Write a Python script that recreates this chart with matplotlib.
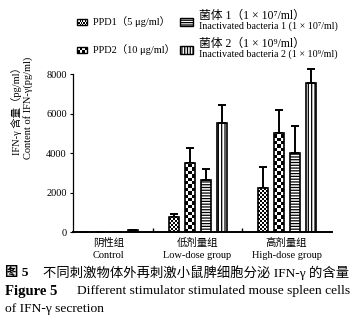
import numpy as np
import matplotlib.pyplot as plt
from matplotlib.patches import Rectangle

plt.rcParams['font.family'] = ['Liberation Serif', 'Noto Sans CJK SC']
plt.rcParams['hatch.linewidth'] = 0.9

grupos = ['阴性组\nControl', '低剂量组\nLow-dose group', '高剂量组\nHigh-dose group']
rotulos_cn = ['PPD1（5 μg/ml）', 'PPD2（10 μg/ml）', '菌体 1（1 × 10⁷/ml）', '菌体 2（1 × 10⁹/ml）']
rotulos_en = ['', '', 'Inactivated bacteria 1 (1 × 10⁷/ml)', 'Inactivated bacteria 2 (1 × 10⁹/ml)']

ppd1 = [0, 750, 2250]
ppd2 = [0, 3500, 5000]
bact1 = [0, 2650, 4000]
bact2 = [100, 5500, 7550]
erro_ppd1 = [0, 150, 1050]
erro_ppd2 = [0, 750, 1200]
erro_bact1 = [0, 550, 1350]
erro_bact2 = [0, 950, 700]

valores = [ppd1, ppd2, bact1, bact2]
erros = [erro_ppd1, erro_ppd2, erro_bact1, erro_bact2]
# xadrez: (colunas por barra, altura da celula em pg/ml); hachura para os outros
xadrez = [(5, 100), (3, 170), None, None]
hachuras = [None, None, '------', '|||||']


def desenhar_xadrez(ax, barra, n_colunas, altura_celula):
    x0, w, h = barra.get_x(), barra.get_width(), barra.get_height()
    if h <= 0:
        return
    n_linhas = int(np.ceil(h / altura_celula))
    ii, jj = np.indices((n_linhas, n_colunas))
    padrao = (ii + jj) % 2
    im = ax.imshow(padrao, extent=[x0, x0 + w, 0, n_linhas * altura_celula], origin='lower',
                   cmap='gray', vmin=0, vmax=1, interpolation='nearest', aspect='auto', zorder=1.5)
    im.set_clip_path(barra)


def legenda_xadrez(fig, x, y, w, h, n_colunas, n_linhas):
    cw, ch = w / n_colunas, h / n_linhas
    for i in range(n_linhas):
        for j in range(n_colunas):
            if (i + j) % 2 == 0:
                fig.add_artist(Rectangle((x + j * cw, y + i * ch), cw, ch, transform=fig.transFigure,
                                         facecolor='black', edgecolor='none'))
    fig.add_artist(Rectangle((x, y), w, h, transform=fig.transFigure, facecolor='none',
                             edgecolor='black', linewidth=1))


fig = plt.figure(figsize=(3.52, 3.31), dpi=100)
ax = fig.add_axes([0.2074, 0.299, 0.736, 0.477])

x = np.arange(len(grupos))
largura = 0.112
deslocamentos = [-0.27, -0.09, 0.09, 0.27]

for i in range(4):
    barras = ax.bar(x + deslocamentos[i], valores[i], largura, facecolor='none', edgecolor='black',
                    linewidth=1.2, hatch=hachuras[i], zorder=2)
    if xadrez[i] is not None:
        for b in barras:
            desenhar_xadrez(ax, b, *xadrez[i])
    erro = np.array(erros[i])
    ax.errorbar(x + deslocamentos[i], valores[i], yerr=[np.zeros(3), erro],
                fmt='none', ecolor='black', elinewidth=1.4, capsize=2.7, capthick=1.4,
                clip_on=False, zorder=1)

ax.set_xlim(-0.399, 2.511)
ax.set_ylim(0, 8000)
ax.set_yticks([0, 2000, 4000, 6000, 8000])
ax.set_xticks(x)
ax.set_xticklabels(grupos, fontsize=7.5, linespacing=1.5)
ax.set_xticks([0.5, 1.5], minor=True)
ax.tick_params(axis='x', which='major', length=0, pad=4)
ax.tick_params(axis='x', which='minor', direction='in', length=3, width=1)
ax.tick_params(axis='y', direction='out', length=2.5, width=0.8, labelsize=7.5, pad=2)
ax.spines['top'].set_visible(False)
ax.spines['right'].set_visible(False)
ax.spines['bottom'].set_linewidth(1.4)
ax.spines['left'].set_linewidth(0.9)
ax.set_ylabel('IFN-γ 含量（pg/ml）\nContent of IFN-γ(pg/ml)', fontsize=7.5, linespacing=1.1)
ax.yaxis.set_label_coords(-0.154, 0.785)

# legenda manual (2 colunas)
W, H = 352.0, 331.0
itens = [(77, 22, 10, 6.5), (77, 50, 10, 6.5), (180, 22, 13, 7), (180, 50, 13, 7)]
for i, (px, py, pw, ph) in enumerate(itens):
    fx, fy = px / W, 1 - (py + ph / 2) / H
    if xadrez[i] is not None:
        n_col = 8 if i == 0 else 4
        n_lin = 4 if i == 0 else 2
        legenda_xadrez(fig, fx, fy, pw / W, ph / H, n_col, n_lin)
    else:
        fig.add_artist(Rectangle((fx, fy), pw / W, ph / H, transform=fig.transFigure,
                                 facecolor='white', edgecolor='black', linewidth=1,
                                 hatch='-------' if i == 2 else '||||||'))
    tx = (px + pw + 6) / W
    if rotulos_en[i]:
        fig.text(tx, 1 - (py - 6) / H, rotulos_cn[i], fontsize=8.5, va='center')
        fig.text(tx, 1 - (py + 4) / H, rotulos_en[i], fontsize=7.2, va='center')
    else:
        fig.text(tx, 1 - py / H, rotulos_cn[i], fontsize=7.5, va='center')

fig.text(5 / W, 1 - 273 / H, '图 5', fontsize=9.6, fontweight='bold', va='center')
fig.text(43 / W, 1 - 273 / H, '不同刺激物体外再刺激小鼠脾细胞分泌 IFN-γ 的含量', fontsize=9.6, va='center')
fig.text(5 / W, 1 - 291 / H, 'Figure 5', fontsize=10.5, fontweight='bold', va='center')
fig.text(77 / W, 1 - 291 / H, 'Different stimulator stimulated mouse spleen cells', fontsize=9.7,
         va='center')
fig.text(5 / W, 1 - 309 / H, 'of IFN-γ secretion', fontsize=9.7, va='center')

plt.savefig('out.png', dpi=100)
